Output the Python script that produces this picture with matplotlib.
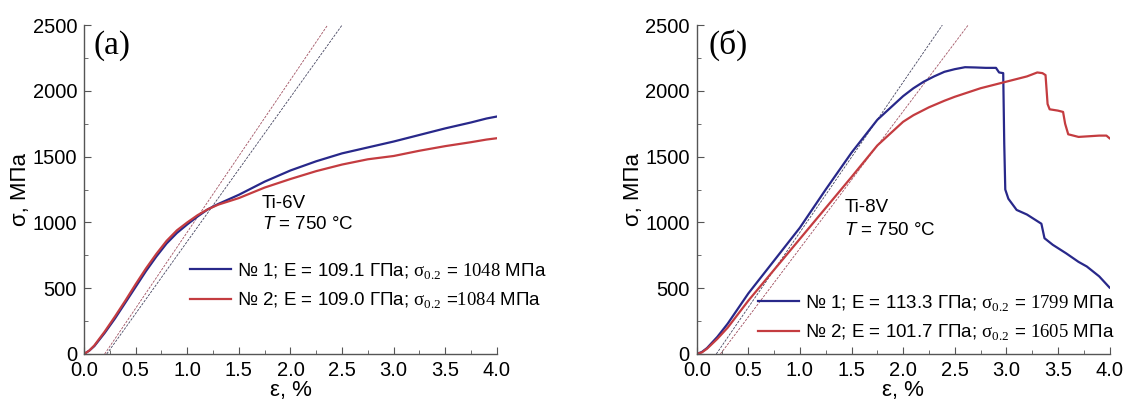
import matplotlib
matplotlib.use('Agg')
import matplotlib.pyplot as plt
from matplotlib.ticker import MultipleLocator

plt.rcParams['font.family'] = ['Liberation Sans', 'DejaVu Sans']
plt.rcParams['mathtext.fontset'] = 'custom'
plt.rcParams['mathtext.rm'] = 'Liberation Serif'
plt.rcParams['mathtext.it'] = 'Liberation Sans:italic'

# --- data ---
# (a) Ti-6V
eps_a = [0, 0.05, 0.1, 0.2, 0.3, 0.4, 0.5, 0.6, 0.7, 0.8, 0.9, 1.0, 1.1, 1.2, 1.3,
         1.5, 1.75, 2.0, 2.25, 2.5, 2.75, 3.0, 3.25, 3.5, 3.75, 3.9, 4.0]
sig_a1 = [0, 25, 60, 160, 270, 390, 510, 630, 740, 840, 920, 985, 1045, 1100, 1140,
          1210, 1310, 1395, 1465, 1525, 1570, 1615, 1665, 1715, 1760, 1790, 1805]
sig_a2 = [0, 25, 65, 170, 285, 405, 530, 650, 760, 860, 940, 1000, 1055, 1100, 1135,
          1185, 1265, 1330, 1390, 1440, 1480, 1505, 1545, 1580, 1610, 1630, 1640]

# (б) Ti-8V
eps_b1 = [0, 0.05, 0.1, 0.2, 0.3, 0.5, 0.75, 1.0, 1.25, 1.5, 1.75, 2.0, 2.1, 2.2,
          2.3, 2.4, 2.5, 2.6, 2.7, 2.8, 2.9, 2.93, 2.97, 2.98, 2.99, 3.02, 3.1, 3.2,
          3.32, 3.34, 3.37, 3.45, 3.58, 3.7, 3.78, 3.9, 4.0]
sig_b1 = [0, 15, 45, 130, 230, 460, 710, 960, 1250, 1530, 1780, 1960, 2020, 2070,
          2110, 2145, 2165, 2180, 2178, 2175, 2175, 2140, 2135, 1600, 1250, 1180, 1095,
          1060, 1000, 990, 880, 830, 765, 700, 665, 590, 505]
eps_b2 = [0, 0.05, 0.1, 0.2, 0.3, 0.5, 0.75, 1.0, 1.25, 1.5, 1.75, 2.0, 2.1, 2.25,
          2.4, 2.5, 2.75, 3.0, 3.2, 3.3, 3.35, 3.38, 3.40, 3.42, 3.5, 3.55, 3.57,
          3.6, 3.7, 3.8, 3.9, 3.97, 4.0]
sig_b2 = [0, 12, 40, 115, 200, 405, 640, 875, 1110, 1345, 1585, 1765, 1815, 1875,
          1925, 1955, 2020, 2070, 2110, 2140, 2135, 2120, 1900, 1860, 1850, 1840, 1750,
          1670, 1650, 1655, 1660, 1660, 1640]

# elastic tangent lines: (start strain, strain at 2500 MPa)
tan_a = [(0.20, 2.36), (0.22, 2.50)]
tan_b = [(0.19, 2.38), (0.23, 2.63)]

labels_a = ['№ 1; E = 109.1 ГПа; $\\mathrm{\\sigma}_{\\mathrm{0.2}}$ = $\\mathrm{1048}$ МПа',
            '№ 2; E = 109.0 ГПа; $\\mathrm{\\sigma}_{\\mathrm{0.2}}$ =$\\mathrm{1084}$ МПа']
labels_b = ['№ 1; E = 113.3 ГПа; $\\mathrm{\\sigma}_{\\mathrm{0.2}}$ = $\\mathrm{1799}$ МПа',
            '№ 2; E = 101.7 ГПа; $\\mathrm{\\sigma}_{\\mathrm{0.2}}$ = $\\mathrm{1605}$ МПа']

blue = '#28288a'
red = '#c43c40'
tan_colors_a = ['#a05060', '#454560']
tan_colors_b = ['#454560', '#a05060']

fig = plt.figure(figsize=(11.31, 4.05), dpi=100)
ax1 = fig.add_axes([0.0743, 0.126, 0.365, 0.812])
ax2 = fig.add_axes([0.616, 0.126, 0.365, 0.812])


def style(ax):
    ax.set_xlim(0, 4.0)
    ax.set_ylim(0, 2500)
    for s in ['top', 'right']:
        ax.spines[s].set_visible(False)
    for s in ['left', 'bottom']:
        ax.spines[s].set_color('#555555')
        ax.spines[s].set_linewidth(1.0)
    ax.xaxis.set_major_locator(MultipleLocator(0.5))
    ax.xaxis.set_minor_locator(MultipleLocator(0.25))
    ax.yaxis.set_major_locator(MultipleLocator(500))
    ax.yaxis.set_minor_locator(MultipleLocator(250))
    ax.xaxis.set_major_formatter(plt.FuncFormatter(lambda v, p: f'{v:.1f}'))
    ax.tick_params(which='both', direction='in', colors='#555555',
                   labelcolor='black', labelsize=14.5)
    ax.tick_params(which='major', length=5)
    ax.tick_params(which='minor', length=3)
    ax.tick_params(axis='y', pad=5)
    ax.tick_params(axis='x', pad=5)
    ax.set_xlabel('ε, %', fontsize=16, labelpad=0)
    ax.set_ylabel('σ, МПа', fontsize=16, labelpad=1)


for ax in (ax1, ax2):
    style(ax)

# panel (a)
for (e0, e1), c in zip(tan_a, tan_colors_a):
    ax1.plot([e0, e1], [0, 2500], color=c, lw=0.6, ls=(0, (3, 1.5)))
l1, = ax1.plot(eps_a, sig_a1, color=blue, lw=1.6)
l2, = ax1.plot(eps_a, sig_a2, color=red, lw=1.6)
ax1.legend([l1, l2], labels_a, loc='center left', bbox_to_anchor=(0.257, 0.21),
           frameon=False, fontsize=13.5, handlelength=2.2, handletextpad=0.3,
           labelspacing=0.45, borderpad=0, borderaxespad=0)
ax1.text(1.72, 1147, 'Ti-6V', fontsize=13.5, va='center', ha='left')
ax1.text(1.72, 985, '$\\mathit{T}$ = 750 °C', fontsize=13.5, va='center', ha='left')
ax1.text(0.09, 2348, '(a)', fontsize=24, family='Liberation Serif', va='center', ha='left')

# panel (б)
for (e0, e1), c in zip(tan_b, tan_colors_b):
    ax2.plot([e0, e1], [0, 2500], color=c, lw=0.6, ls=(0, (3, 1.5)))
m1, = ax2.plot(eps_b1, sig_b1, color=blue, lw=1.6)
m2, = ax2.plot(eps_b2, sig_b2, color=red, lw=1.6)
ax2.legend([m1, m2], labels_b, loc='center left', bbox_to_anchor=(0.148, 0.112),
           frameon=False, fontsize=13.5, handlelength=2.2, handletextpad=0.3,
           labelspacing=0.45, borderpad=0, borderaxespad=0)
ax2.text(1.43, 1110, 'Ti-8V', fontsize=13.5, va='center', ha='left')
ax2.text(1.43, 942, '$\\mathit{T}$ = 750 °C', fontsize=13.5, va='center', ha='left')
ax2.text(0.11, 2348, '(б)', fontsize=24, family='Liberation Serif', va='center', ha='left')

fig.savefig('out.png', dpi=100)
